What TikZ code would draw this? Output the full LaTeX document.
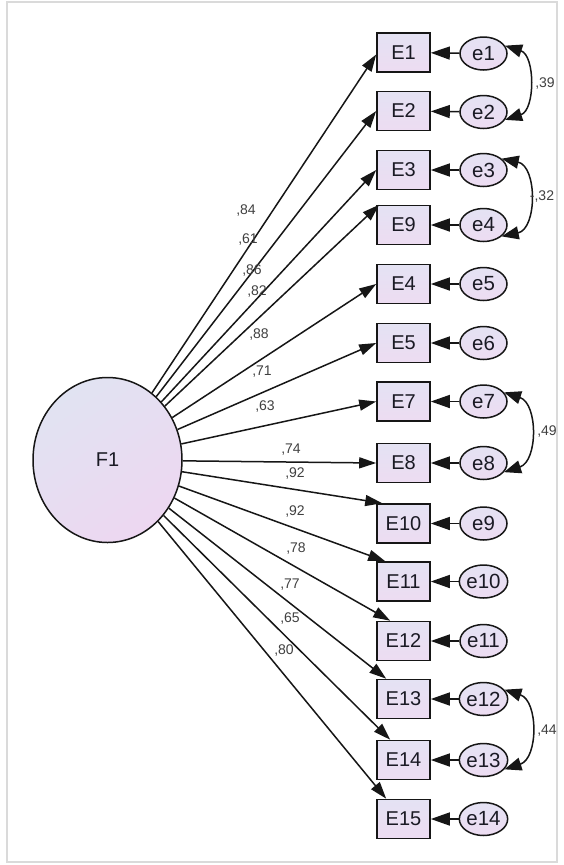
\documentclass[tikz,border=0pt]{standalone}
\usepackage{fontspec}
\setmainfont{Liberation Sans}
\usetikzlibrary{arrows.meta,shapes.geometric}
\definecolor{frameGray}{HTML}{DADADA}
\definecolor{inkLine}{HTML}{161616}
\definecolor{boxTop}{HTML}{E4E2F3}
\definecolor{boxBot}{HTML}{EDDCF2}
\definecolor{latA}{HTML}{E1E3F2}
\definecolor{latB}{HTML}{EDD7F1}
\definecolor{coefGray}{HTML}{404040}
\definecolor{nodeText}{HTML}{1A1A24}
\begin{document}
\begin{tikzpicture}[x=1pt,y=1pt,
  obs/.style={draw=inkLine, line width=1.6pt, rectangle, minimum width=53pt,
    minimum height=39pt, inner sep=0pt, top color=boxTop, bottom color=boxBot,
    font=\fontsize{20}{20}\selectfont, text=nodeText},
  err/.style={draw=inkLine, line width=1.5pt, ellipse, minimum width=47pt,
    minimum height=33pt, inner sep=0pt, top color=boxTop, bottom color=boxBot,
    font=\fontsize{20.5}{20.5}\selectfont, text=nodeText},
  lat/.style={draw=inkLine, line width=1.5pt, ellipse, minimum width=149pt,
    minimum height=165pt, inner sep=0pt, top color=latA, bottom color=latB,
    shading angle=35, font=\fontsize{20}{20}\selectfont, text=nodeText},
  load/.style={draw=inkLine, line width=1.5pt, -{Triangle[length=17pt,width=11pt]}},
  res/.style={draw=inkLine, line width=1.5pt, -{Triangle[length=19pt,width=13pt]}},
  cov/.style={draw=inkLine, line width=1.5pt,
    {Triangle[length=17pt,width=13pt]}-{Triangle[length=17pt,width=13pt]}},
  coef/.style={font=\fontsize{14}{14}\selectfont, text=coefGray, inner sep=0pt},
]
\useasboundingbox (0,0) rectangle (563,-865);
\fill[white] (0,0) rectangle (563,-865);
\draw[frameGray, line width=2.2pt] (7,-2) rectangle (557,-862);

% latent factor
\node[lat] (F1) at (107.5,-460) {F1};

% observed indicators
\foreach \n/\y in {E1/52.5, E2/111, E3/170, E9/225, E4/284, E5/343, E7/401.5,
                   E8/463, E10/523.5, E11/581.5, E12/641, E13/699, E14/760, E15/819}
  \node[obs] (\n) at (403.5,-\y) {\n};

% residual terms
\foreach \n/\y in {e1/53.5, e2/112, e3/170, e4/225, e5/284, e6/343, e7/401.5,
                   e8/463, e9/523.5, e10/581.5, e11/641, e12/699, e13/760, e14/819}
  \node[err] (\n) at (483.5,-\y) {\n};

% residual paths
\foreach \a/\b in {e1/E1, e2/E2, e3/E3, e4/E9, e5/E4, e6/E5, e7/E7, e8/E8,
                   e9/E10, e10/E11, e11/E12, e12/E13, e13/E14, e14/E15}
  \draw[res] (\a) -- (\b);

% factor loadings
\draw[load] (F1) -- ([yshift=-2pt]E1.west);
\draw[load] (F1) -- (E2.west);
\draw[load] (F1) -- (E3.west);
\draw[load] (F1) -- ([xshift=3pt]E9.north west);
\draw[load] (F1) -- (E4.west);
\draw[load] (F1) -- (E5.west);
\draw[load] (F1) -- (E7.west);
\draw[load] (F1) -- (E8.west);
\draw[load] (F1) -- ([xshift=6pt]E10.north west);
\draw[load] (F1) -- ([xshift=9pt]E11.north west);
\draw[load] (F1) -- ([xshift=14pt]E12.north west);
\draw[load] (F1) -- ([xshift=10pt]E13.north west);
\draw[load] (F1) -- ([xshift=14pt]E14.north west);
\draw[load] (F1) -- ([xshift=10pt]E15.north west);

% loading estimates
\node[coef] (l1)  at (246,-211) {,84};
\node[coef] (l2)  at (248,-240) {,61};
\node[coef] (l3)  at (252,-271) {,86};
\node[coef] (l4)  at (257,-292) {,82};
\node[coef] (l5)  at (259,-335) {,88};
\node[coef] (l6)  at (262,-372) {,71};
\node[coef] (l7)  at (265,-407) {,63};
\node[coef] (l8)  at (291,-450) {,74};
\node[coef] (l9)  at (295,-474) {,92};
\node[coef] (l10) at (295,-512) {,92};
\node[coef] (l11) at (296,-548) {,78};
\node[coef] (l12) at (290,-585) {,77};
\node[coef] (l13) at (290,-618) {,65};
\node[coef] (l14) at (284,-650) {,80};

% residual covariances
\draw[cov] (e1.20) to[bend left=72, looseness=1.1] (e2.-20);
\draw[cov] (e3.32) to[bend left=78, looseness=1.2] (e4.-32);
\draw[cov] (e7.24) to[bend left=72, looseness=1.15] (e8.-24);
\draw[cov] (e12.24) to[bend left=72, looseness=1.15] (e13.-24);
\node[coef] (c1) at (545,-84)  {,39};
\node[coef] (c2) at (542,-197) {-{},32};
\node[coef] (c3) at (547,-432) {,49};
\node[coef] (c4) at (547,-731) {,44};
\end{tikzpicture}
\end{document}
